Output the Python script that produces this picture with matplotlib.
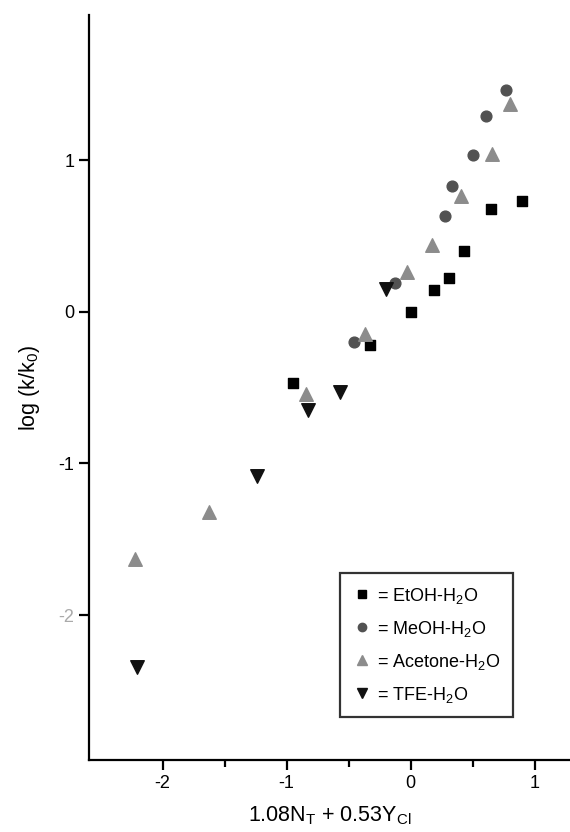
import matplotlib
matplotlib.use('Agg')
import matplotlib.pyplot as plt
from matplotlib.lines import Line2D

plt.rcParams['font.family'] = ['Liberation Sans', 'DejaVu Sans']
plt.rcParams['mathtext.fontset'] = 'custom'
plt.rcParams['mathtext.rm'] = 'Liberation Sans'
plt.rcParams['mathtext.it'] = 'Liberation Sans'
plt.rcParams['axes.unicode_minus'] = False

# data
etoh_x = [-0.95, -0.33, 0.0, 0.19, 0.31, 0.43, 0.65, 0.90]
etoh_y = [-0.47, -0.22, 0.0, 0.14, 0.22, 0.40, 0.68, 0.73]

meoh_x = [-0.46, -0.13, 0.28, 0.33, 0.50, 0.61, 0.77]
meoh_y = [-0.20, 0.19, 0.63, 0.83, 1.03, 1.29, 1.46]

acet_x = [-2.22, -1.63, -0.84, -0.37, -0.03, 0.17, 0.41, 0.66, 0.80]
acet_y = [-1.63, -1.32, -0.54, -0.15, 0.26, 0.44, 0.76, 1.04, 1.37]

tfe_x = [-2.21, -1.24, -0.83, -0.57, -0.20]
tfe_y = [-2.34, -1.08, -0.65, -0.53, 0.15]

legend_labels = ['= EtOH-H$_2$O', '= MeOH-H$_2$O', '= Acetone-H$_2$O', '= TFE-H$_2$O']

fig = plt.figure(figsize=(5.7, 8.32), dpi=100)
ax = fig.add_axes([89/570, 72/832, 481/570, 745/832])

ax.scatter(etoh_x, etoh_y, marker='s', s=50, color='black', zorder=3)
ax.scatter(meoh_x, meoh_y, marker='o', s=60, color='#525252', zorder=3)
ax.scatter(acet_x, acet_y, marker='^', s=95, color='#8c8c8c', zorder=3)
ax.scatter(tfe_x, tfe_y, marker='v', s=95, color='#111111', zorder=3)

ax.set_xlim(-2.594, 1.285)
ax.set_ylim(-2.955, 1.956)

ax.spines['top'].set_visible(False)
ax.spines['right'].set_visible(False)
ax.spines['left'].set_linewidth(1.6)
ax.spines['bottom'].set_linewidth(1.6)

ax.set_xticks([-2, -1, 0, 1])
ax.set_xticks([-1.5, -0.5, 0.5], minor=True)
ax.set_yticks([-2, -1, 0, 1])
ax.tick_params(axis='both', which='major', direction='out', length=7, width=1.6, labelsize=13)
ax.tick_params(axis='x', which='minor', direction='out', length=5, width=1.6)

# faint -2 on the y axis
t = ax.yaxis.get_major_ticks()[0]
t.tick1line.set_color('#bbbbbb')
t.label1.set_color('#aaaaaa')

ax.set_xlabel('1.08N$_T$ + 0.53Y$_{Cl}$', fontsize=15.5, labelpad=9)
ax.set_ylabel('log (k/k$_0$)', fontsize=15.5, labelpad=12)

handles = [
    Line2D([], [], marker='s', color='black', linestyle='', markersize=6),
    Line2D([], [], marker='o', color='#525252', linestyle='', markersize=6),
    Line2D([], [], marker='^', color='#8c8c8c', linestyle='', markersize=7),
    Line2D([], [], marker='v', color='#111111', linestyle='', markersize=7),
]
leg = ax.legend(handles, legend_labels, loc='upper left',
                bbox_to_anchor=((340 - 89) / 481, (832 - 72 - 573) / 745),
                fontsize=13, frameon=True, fancybox=False, edgecolor='black',
                handletextpad=0.36, handlelength=1.0, labelspacing=0.72,
                borderpad=0.7, borderaxespad=0)
leg.get_frame().set_linewidth(1.6)

fig.savefig('out.png', dpi=100)
